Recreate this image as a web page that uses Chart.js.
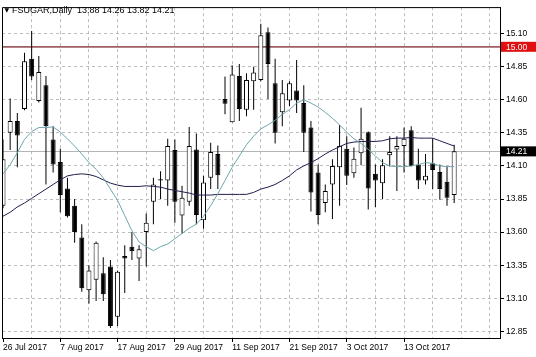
<!DOCTYPE html>
<html>
<head>
<meta charset="utf-8">
<script src="https://cdn.jsdelivr.net/npm/chart.js@4.4.0/dist/chart.umd.min.js"></script>
<style>
  html, body { margin: 0; padding: 0; background: #fff; }
  canvas { display: block; }
</style>
</head>
<body>
<canvas id="chart" width="536" height="357"></canvas>
<script>
// daily bars, 26 Jul 2017 .. 24 Oct 2017
const symbolName = 'FSUGAR,Daily';
const dateLabels = ['26 Jul 2017', '7 Aug 2017', '17 Aug 2017', '29 Aug 2017', '11 Sep 2017', '21 Sep 2017', '3 Oct 2017', '13 Oct 2017'];
const yTicks = [12.85, 13.10, 13.35, 13.60, 13.85, 14.10, 14.35, 14.60, 14.85, 15.10];

const opens  = [13.80, 14.35, 14.44, 14.53, 14.91, 14.59, 14.71, 14.30, 14.13, 13.93, 13.80, 13.56, 13.16, 13.24, 13.29, 13.34,
                12.96, 13.42, 13.49, 13.40, 13.60, 13.83, 14.00, 13.99, 14.22, 13.725, 13.83, 14.225, 13.69, 14.01, 14.19, 14.605,
                14.43, 14.78, 14.525, 14.74, 14.75, 15.11, 14.725, 14.505, 14.595, 14.67, 14.575, 14.39, 14.05, 13.82, 13.96, 14.09,
                14.23, 14.045, 14.195, 14.355, 14.04, 13.97, 14.18, 14.225, 14.25, 14.37, 14.11, 13.99, 14.12, 14.055, 13.98, 13.88];
const highs  = [14.30, 14.61, 14.50, 14.955, 15.12, 14.93, 14.78, 14.40, 14.23, 14.01, 13.85, 13.66, 13.35, 13.53, 13.41, 13.39,
                13.31, 13.50, 13.60, 13.50, 13.74, 14.01, 14.06, 14.305, 14.30, 13.95, 14.395, 14.345, 14.025, 14.275, 14.255, 14.775,
                14.86, 14.87, 14.80, 14.85, 15.175, 15.145, 14.91, 14.75, 14.74, 14.90, 14.71, 14.44, 14.11, 13.96, 14.15, 14.41,
                14.325, 14.24, 14.54, 14.36, 14.11, 14.15, 14.325, 14.325, 14.39, 14.40, 14.23, 14.19, 14.31, 14.11, 14.095, 14.26];
const lows   = [13.78, 14.22, 14.09, 14.52, 14.75, 14.58, 13.96, 14.05, 13.75, 13.71, 13.52, 13.15, 13.06, 13.08, 13.08, 12.875,
                12.89, 13.14, 13.39, 13.23, 13.34, 13.66, 13.85, 13.80, 13.67, 13.59, 13.80, 13.66, 13.625, 13.925, 13.925, 14.49,
                14.43, 14.44, 14.475, 14.525, 14.74, 14.605, 14.27, 14.40, 14.55, 14.50, 14.205, 13.755, 13.66, 13.75, 13.70, 13.80,
                13.955, 14.01, 14.105, 13.77, 13.79, 13.85, 14.095, 13.91, 14.05, 14.095, 13.925, 13.96, 13.925, 13.845, 13.80, 13.82];
const closes = [14.15, 14.44, 14.33, 14.89, 14.775, 14.81, 14.40, 14.11, 13.88, 13.72, 13.60, 13.175, 13.31, 13.52, 13.13, 12.89,
                13.30, 13.40, 13.455, 13.47, 13.67, 13.96, 13.99, 14.25, 13.83, 13.86, 14.25, 13.73, 13.975, 14.205, 14.03, 14.57,
                14.79, 14.53, 14.75, 14.805, 15.0875, 14.87, 14.35, 14.65, 14.725, 14.595, 14.35, 13.90, 13.73, 13.91, 14.10, 14.25,
                14.025, 14.155, 14.305, 13.93, 13.99, 14.105, 14.205, 14.25, 14.305, 14.10, 13.99, 14.025, 14.07, 13.925, 13.86, 14.21];

// moving averages as seen on the chart
const maFast = [14.04, 14.11, 14.20, 14.30, 14.36, 14.39, 14.39, 14.395, 14.355, 14.305, 14.25, 14.19, 14.125, 14.075, 14.01, 13.925,
                13.84, 13.725, 13.61, 13.525, 13.49, 13.46, 13.49, 13.51, 13.55, 13.59, 13.63, 13.66, 13.72, 13.80, 13.89, 13.99,
                14.09, 14.175, 14.26, 14.325, 14.38, 14.41, 14.445, 14.49, 14.525, 14.575, 14.60, 14.575, 14.545, 14.505, 14.46, 14.41,
                14.355, 14.305, 14.27, 14.225, 14.175, 14.125, 14.10, 14.095, 14.095, 14.10, 14.11, 14.125, 14.12, 14.10, 14.095, 14.095];
const maSlow = [13.72, 13.75, 13.79, 13.82, 13.855, 13.89, 13.925, 13.96, 13.995, 14.025, 14.035, 14.04, 14.035, 14.02, 13.995, 13.97,
                13.955, 13.945, 13.945, 13.945, 13.95, 13.945, 13.94, 13.925, 13.915, 13.905, 13.895, 13.88, 13.88, 13.88, 13.885, 13.885,
                13.885, 13.885, 13.885, 13.90, 13.925, 13.94, 13.96, 13.99, 14.025, 14.07, 14.10, 14.125, 14.155, 14.19, 14.22, 14.245,
                14.27, 14.28, 14.285, 14.285, 14.285, 14.29, 14.305, 14.31, 14.31, 14.315, 14.31, 14.31, 14.31, 14.29, 14.27, 14.25];

const levelPrice = 15.00;

const idx = opens.map((v, i) => i);
const wickData = idx.map(i => ({ x: i, y: [lows[i], highs[i]] }));
const bodyData = idx.map(i => ({ x: i, y: [opens[i], closes[i]] }));
const bodyColors = idx.map(i => closes[i] >= opens[i] ? '#ffffff' : '#000000');

const lastClose = closes[closes.length - 1];
const titleText = symbolName + '  ' + [opens, highs, lows, closes].map(a => a[a.length - 1].toFixed(2)).join(' ');

Chart.defaults.font.family = "'Liberation Sans', Arial, sans-serif";
Chart.defaults.font.size = 8.5;
Chart.defaults.color = '#000';

const gridColor = '#bcbcbc';

const decorations = {
    id: 'decorations',
    beforeDatasetsDraw(chart) {
        const ctx = chart.ctx;
        const area = chart.chartArea;
        const y = chart.scales.y;
        ctx.save();
        // current price line
        let py = Math.round(y.getPixelForValue(lastClose)) + 0.5;
        ctx.strokeStyle = '#b4b4b4';
        ctx.lineWidth = 1;
        ctx.beginPath();
        ctx.moveTo(area.left, py);
        ctx.lineTo(area.right, py);
        ctx.stroke();
        // horizontal level
        py = y.getPixelForValue(levelPrice);
        ctx.strokeStyle = '#9e5e64';
        ctx.lineWidth = 1.7;
        ctx.beginPath();
        ctx.moveTo(area.left, py);
        ctx.lineTo(area.right, py);
        ctx.stroke();
        ctx.restore();
    },
    afterDraw(chart) {
        const ctx = chart.ctx;
        const area = chart.chartArea;
        const y = chart.scales.y;
        ctx.save();
        // frame on top and left
        ctx.strokeStyle = '#000';
        ctx.lineWidth = 1;
        ctx.beginPath();
        ctx.moveTo(area.left + 0.5, area.bottom);
        ctx.lineTo(area.left + 0.5, area.top + 0.5);
        ctx.lineTo(area.right, area.top + 0.5);
        ctx.stroke();

        // price tags on the axis
        const tag = (value, fill) => {
            const py = y.getPixelForValue(value);
            ctx.fillStyle = fill;
            ctx.fillRect(area.right + 1, py - 5, 35, 10);
            ctx.fillStyle = '#fff';
            ctx.font = "8.5px 'Liberation Sans', Arial, sans-serif";
            ctx.textAlign = 'left';
            ctx.textBaseline = 'middle';
            ctx.fillText(value.toFixed(2), area.right + 6, py + 0.5);
        };
        tag(levelPrice, '#e01010');
        tag(lastClose, '#000000');

        // title
        ctx.fillStyle = '#000';
        ctx.textAlign = 'left';
        ctx.textBaseline = 'alphabetic';
        ctx.font = "6px 'DejaVu Sans', sans-serif";
        ctx.fillText('\u25BC', 4.5, 11.5);
        ctx.font = "9px 'Liberation Sans', Arial, sans-serif";
        ctx.fillText(titleText, 12, 12.7);
        ctx.restore();
    }
};

new Chart(document.getElementById('chart'), {
    type: 'bar',
    data: {
        datasets: [
            {
                type: 'line',
                label: 'MA fast',
                data: idx.map(i => ({ x: i, y: maFast[i] })),
                borderColor: '#6ea6ad',
                borderWidth: 1,
                pointRadius: 0,
                tension: 0,
                order: 0
            },
            {
                type: 'line',
                label: 'MA slow',
                data: idx.map(i => ({ x: i, y: maSlow[i] })),
                borderColor: '#1e1e4e',
                borderWidth: 1,
                pointRadius: 0,
                tension: 0,
                order: 0
            },
            {
                label: 'body',
                data: bodyData,
                backgroundColor: bodyColors,
                borderColor: '#000',
                borderWidth: 1,
                borderSkipped: false,
                inflateAmount: 0,
                barThickness: 5,
                grouped: false,
                order: 1
            },
            {
                label: 'wick',
                data: wickData,
                backgroundColor: '#000',
                borderWidth: 0,
                inflateAmount: 0,
                barThickness: 1,
                grouped: false,
                order: 2
            }
        ]
    },
    options: {
        responsive: false,
        animation: false,
        devicePixelRatio: 1,
        layout: { padding: { left: 2, top: 3, right: 0, bottom: 0 } },
        plugins: {
            legend: { display: false },
            tooltip: { enabled: false },
            title: { display: false }
        },
        scales: {
            x: {
                type: 'linear',
                min: -0.14,
                max: 69.4,
                offset: false,
                afterFit: s => { s.height = 19; },
                afterBuildTicks: s => {
                    const t = [];
                    for (let v = 0; v <= 68; v += 4) t.push({ value: v });
                    s.ticks = t;
                },
                grid: {
                    offset: false,
                    color: ctx => (ctx.tick && ctx.tick.value === 0) ? 'rgba(0,0,0,0)' : gridColor,
                    tickColor: ctx => (ctx.tick && ctx.tick.value % 8 === 0 && ctx.tick.value <= 56) ? '#000' : 'rgba(0,0,0,0)',
                    tickLength: 4,
                    lineWidth: 1
                },
                border: { display: true, color: '#000', width: 1, dash: [3, 3] },
                ticks: {
                    autoSkip: false,
                    maxRotation: 0,
                    align: 'start',
                    padding: 1,
                    callback: v => (v % 8 === 0 && dateLabels[v / 8]) ? dateLabels[v / 8] : ''
                }
            },
            y: {
                type: 'linear',
                position: 'right',
                min: 12.80,
                max: 15.30,
                afterFit: s => { s.width = 36; },
                afterBuildTicks: s => { s.ticks = yTicks.map(v => ({ value: v })); },
                grid: {
                    color: gridColor,
                    tickColor: '#000',
                    tickLength: 4,
                    lineWidth: 1
                },
                border: { display: true, color: '#000', width: 1, dash: [3, 3] },
                ticks: {
                    padding: 2,
                    callback: v => v.toFixed(2)
                }
            }
        }
    },
    plugins: [decorations]
});
</script>
</body>
</html>
